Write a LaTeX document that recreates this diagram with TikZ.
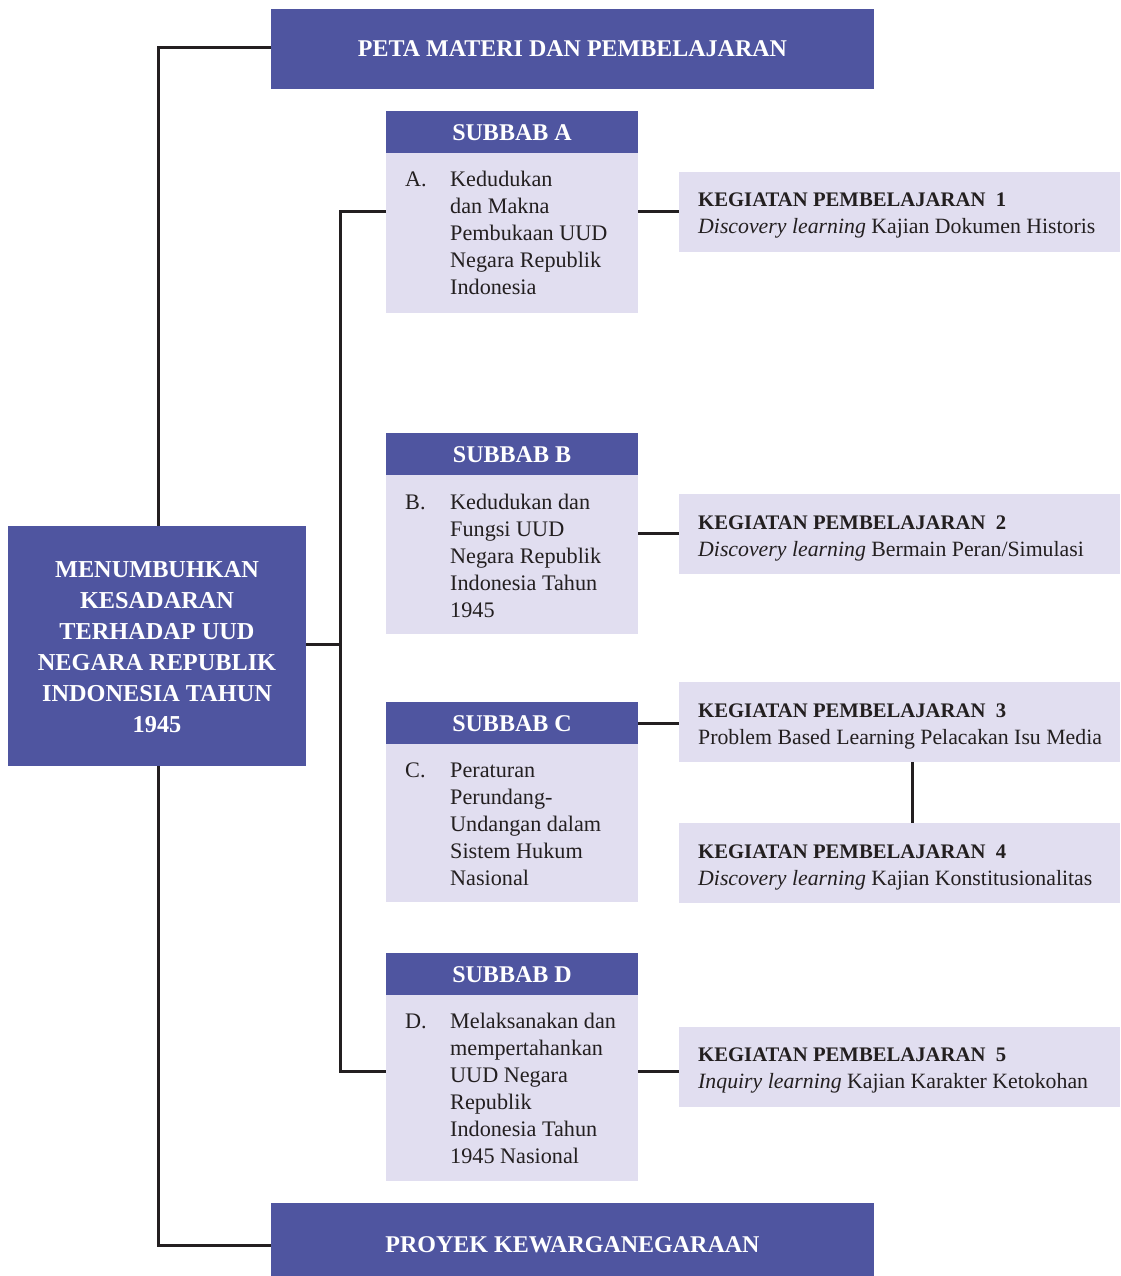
\documentclass[tikz,border=0pt]{standalone}
\usepackage{fontspec}
\setmainfont{Liberation Serif}
\definecolor{dblue}{RGB}{79,85,160}
\definecolor{lav}{RGB}{225,222,240}
\definecolor{ink}{RGB}{35,31,32}
\newcommand\ktitlefont{\fontsize{20.7}{27}\selectfont\bfseries}
\begin{document}
\begin{tikzpicture}[x=1pt,y=-1pt,
  bluebox/.style={fill=dblue,draw=none,inner sep=0,outer sep=0,anchor=north west},
  lavbox/.style={fill=lav,draw=none,inner sep=0,outer sep=0,anchor=north west},
  wtitle/.style={text=white,font=\fontsize{24}{28}\selectfont\bfseries,inner sep=0},
  maintext/.style={text=white,font=\fontsize{24.3}{31}\selectfont\bfseries,align=center,inner sep=0},
  body/.style={text=ink,font=\fontsize{22.2}{27}\selectfont,align=left,inner sep=0,anchor=base west},
  ktext/.style={text=ink,font=\fontsize{21.8}{27}\selectfont,align=left,inner sep=0,anchor=base west},
  conn/.style={draw=ink,line width=3pt}]
\useasboundingbox (0,0) rectangle (1120,1276);
% top / bottom / main
\node[bluebox,minimum width=603pt,minimum height=80pt] (peta) at (271,9) {};
\node[wtitle] (petat) at (572.5,49) {PETA MATERI DAN PEMBELAJARAN};
\node[bluebox,minimum width=603pt,minimum height=73pt] (proyek) at (271,1203) {};
\node[wtitle] (proyekt) at (572.5,1245) {PROYEK KEWARGANEGARAAN};
\node[bluebox,minimum width=298pt,minimum height=240pt] (main) at (8,526) {};
\node[maintext] (maint) at (157,647) {MENUMBUHKAN\\KESADARAN\\TERHADAP UUD\\NEGARA REPUBLIK\\INDONESIA TAHUN\\1945};
% subbab A
\node[bluebox,minimum width=252pt,minimum height=42pt] (ha) at (386,111) {};
\node[wtitle] (hat) at (512,133) {SUBBAB A};
\node[lavbox,minimum width=252pt,minimum height=160pt] (ba) at (386,153) {};
\node[body] (bal) at (405,186) {A.};
\node[body] (bat) at (450,294) {Kedudukan\\dan Makna\\Pembukaan UUD\\Negara Republik\\Indonesia};
% subbab B
\node[bluebox,minimum width=252pt,minimum height=42pt] (hb) at (386,433) {};
\node[wtitle] (hbt) at (512,455) {SUBBAB B};
\node[lavbox,minimum width=252pt,minimum height=159pt] (bb) at (386,475) {};
\node[body] (bbl) at (405,509) {B.};
\node[body] (bbt) at (450,617) {Kedudukan dan\\Fungsi UUD\\Negara Republik\\Indonesia Tahun\\1945};
% subbab C
\node[bluebox,minimum width=252pt,minimum height=42pt] (hc) at (386,702) {};
\node[wtitle] (hct) at (512,724) {SUBBAB C};
\node[lavbox,minimum width=252pt,minimum height=158pt] (bc) at (386,744) {};
\node[body] (bcl) at (405,777) {C.};
\node[body] (bct) at (450,885) {Peraturan\\Perundang-\\Undangan dalam\\Sistem Hukum\\Nasional};
% subbab D
\node[bluebox,minimum width=252pt,minimum height=42pt] (hd) at (386,953) {};
\node[wtitle] (hdt) at (512,975) {SUBBAB D};
\node[lavbox,minimum width=252pt,minimum height=186pt] (bd) at (386,995) {};
\node[body] (bdl) at (405,1028) {D.};
\node[body] (bdt) at (450,1163) {Melaksanakan dan\\mempertahankan\\UUD Negara\\Republik\\Indonesia Tahun\\1945 Nasional};
% kegiatan
\node[lavbox,minimum width=441pt,minimum height=80pt] (k1) at (679,172) {};
\node[ktext] (k1t) at (698,233) {{\ktitlefont KEGIATAN PEMBELAJARAN\ \ 1}\\\textit{Discovery learning} Kajian Dokumen Historis};
\node[lavbox,minimum width=441pt,minimum height=80pt] (k2) at (679,494) {};
\node[ktext] (k2t) at (698,556) {{\ktitlefont KEGIATAN PEMBELAJARAN\ \ 2}\\\textit{Discovery learning} Bermain Peran/Simulasi};
\node[lavbox,minimum width=441pt,minimum height=80pt] (k3) at (679,682) {};
\node[ktext] (k3t) at (698,744) {{\ktitlefont KEGIATAN PEMBELAJARAN\ \ 3}\\Problem Based Learning Pelacakan Isu Media};
\node[lavbox,minimum width=441pt,minimum height=80pt] (k4) at (679,823) {};
\node[ktext] (k4t) at (698,885) {{\ktitlefont KEGIATAN PEMBELAJARAN\ \ 4}\\\textit{Discovery learning} Kajian Konstitusionalitas};
\node[lavbox,minimum width=441pt,minimum height=80pt] (k5) at (679,1027) {};
\node[ktext] (k5t) at (698,1088) {{\ktitlefont KEGIATAN PEMBELAJARAN\ \ 5}\\\textit{Inquiry learning} Kajian Karakter Ketokohan};
% connectors
\coordinate (lt) at (158,48);
\coordinate (lb) at (158,1245);
\draw[conn] (peta.west |- lt) -- (lt) -- (lt |- main.north);
\draw[conn] (main.south -| lb) -- (lb) -- (proyek.west |- lb);
\coordinate (sa) at (340,211);
\coordinate (sd) at (340,1071);
\draw[conn] (ba.west |- sa) -- (sa) -- (sd) -- (bd.west |- sd);
\draw[conn] (main.east |- 0,644) -- (340,644);
\draw[conn] (ba.east |- 0,211) -- (k1.west |- 0,211);
\draw[conn] (bb.east |- 0,533) -- (k2.west |- 0,533);
\draw[conn] (hc.east |- 0,723) -- (k3.west |- 0,723);
\draw[conn] (k3.south -| 912,0) -- (k4.north -| 912,0);
\draw[conn] (bd.east |- 0,1071) -- (k5.west |- 0,1071);
\end{tikzpicture}
\end{document}
